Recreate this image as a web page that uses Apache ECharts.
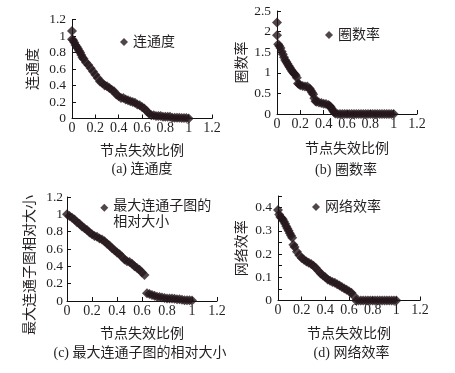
<!DOCTYPE html>
<html><head><meta charset="utf-8">
<script src="https://cdn.jsdelivr.net/npm/echarts@6/dist/echarts.min.js"></script>
<style>html,body{margin:0;padding:0;background:#fff}#c{width:455px;height:373px}</style>
</head><body><div id="c"></div>
<script>
// ---- data ----
var xTicks = ['0','0.2','0.4','0.6','0.8','1','1.2'];
var aX = [0,0,0.01,0.02,0.03,0.04,0.05,0.06,0.07,0.08,0.09,0.10,0.12,0.14,0.16,0.18,0.20,0.22,0.24,0.26,0.28,0.30,0.32,0.34,0.36,0.38,0.40,0.42,0.44,0.46,0.48,0.50,0.52,0.54,0.56,0.58,0.60,0.62,0.64,0.66,0.68,0.70,0.72,0.74,0.76,0.78,0.80,0.82,0.84,0.86,0.88,0.90,0.92,0.94,0.96,0.98,1.00];
var aY = [1.06,0.96,0.95,0.92,0.89,0.87,0.85,0.82,0.80,0.77,0.74,0.72,0.68,0.65,0.61,0.57,0.53,0.49,0.45,0.43,0.40,0.39,0.37,0.35,0.33,0.29,0.27,0.25,0.25,0.23,0.22,0.21,0.20,0.19,0.17,0.16,0.14,0.12,0.09,0.06,0.04,0.04,0.03,0.03,0.03,0.02,0.02,0.02,0.02,0.01,0.01,0.01,0.01,0.005,0.005,0.005,0];
var bX = [0,0,0.01,0.02,0.03,0.04,0.05,0.06,0.07,0.08,0.09,0.10,0.11,0.12,0.13,0.14,0.15,0.16,0.17,0.18,0.19,0.20,0.22,0.24,0.26,0.28,0.29,0.30,0.31,0.32,0.33,0.34,0.36,0.38,0.40,0.42,0.44,0.45,0.46,0.47,0.48,0.49,0.50,0.52,0.54,0.56,0.58,0.60,0.62,0.64,0.66,0.68,0.70,0.72,0.74,0.76,0.78,0.80,0.82,0.84,0.86,0.88,0.90,0.92,0.94,0.96,0.98,1.00];
var bY = [2.22,1.91,1.69,1.65,1.60,1.52,1.45,1.38,1.31,1.27,1.22,1.17,1.13,1.08,1.04,1.00,0.97,0.94,0.88,0.74,0.72,0.70,0.68,0.67,0.67,0.62,0.57,0.52,0.48,0.38,0.31,0.30,0.28,0.27,0.25,0.24,0.22,0.20,0.17,0.13,0.08,0.04,0.01,0,0,0,0,0,0,0,0,0,0,0,0,0,0,0,0,0,0,0,0,0,0,0,0,0];
var cX = [0,0.02,0.04,0.06,0.08,0.10,0.12,0.14,0.16,0.18,0.20,0.22,0.24,0.26,0.28,0.30,0.32,0.34,0.36,0.38,0.40,0.42,0.44,0.46,0.48,0.50,0.52,0.54,0.56,0.58,0.60,0.62,0.64,0.66,0.68,0.70,0.72,0.74,0.76,0.78,0.80,0.82,0.84,0.86,0.88,0.90,0.92,0.94,0.96,0.98,1.00];
var cY = [1.00,0.98,0.96,0.94,0.91,0.89,0.86,0.84,0.82,0.79,0.77,0.75,0.74,0.72,0.71,0.69,0.66,0.64,0.61,0.585,0.56,0.54,0.51,0.48,0.46,0.45,0.43,0.40,0.38,0.36,0.33,0.30,0.09,0.08,0.07,0.06,0.05,0.045,0.04,0.035,0.03,0.03,0.03,0.025,0.02,0.02,0.015,0.01,0.01,0.01,0.005];
var dX = [0,0.01,0.02,0.03,0.04,0.05,0.06,0.07,0.08,0.09,0.10,0.11,0.12,0.13,0.14,0.16,0.18,0.20,0.22,0.24,0.26,0.28,0.30,0.32,0.34,0.36,0.38,0.40,0.42,0.44,0.46,0.48,0.50,0.52,0.54,0.56,0.58,0.60,0.62,0.64,0.66,0.68,0.70,0.72,0.74,0.76,0.78,0.80,0.82,0.84,0.86,0.88,0.90,0.92,0.94,0.96,0.98,1.00];
var dY = [0.39,0.37,0.36,0.355,0.35,0.34,0.33,0.32,0.31,0.30,0.29,0.28,0.27,0.24,0.23,0.21,0.195,0.183,0.175,0.168,0.163,0.157,0.150,0.140,0.128,0.116,0.108,0.100,0.090,0.085,0.080,0.076,0.070,0.065,0.058,0.052,0.046,0.040,0.033,0.02,0,0,0,0,0,0,0,0,0,0,0,0,0,0,0,0,0,0];
var names = ['连通度','圈数率','最大连通子图的\n相对大小','网络效率'];
var yNames = ['连通度','圈数率','最大连通子图相对大小','网络效率'];
var xName = '节点失效比例';
var captions = ['(a) 连通度','(b) 圈数率','(c) 最大连通子图的相对大小','(d) 网络效率'];

// ---- chart ----
var FONT = 'Liberation Serif, Noto Sans CJK SC, serif';
var TXT = '#231f20';
var MK = '#24171a';
function zip(xs, ys){ return xs.map(function(x,i){return [x, ys[i]];}); }

var grids = [
  {left:72, top:19.5, width:140, height:99},
  {left:277, top:11, width:140, height:103},
  {left:67, top:197, width:150, height:104},
  {left:278, top:196, width:142, height:104.5}
];
var yCfg = [
  {max:1.2, interval:0.2, gap:32, fmt:null, pad:0},
  {max:2.5, interval:0.5, gap:28, fmt:null, pad:0},
  {max:1.2, interval:0.2, gap:30, fmt:null, pad:32},
  {max:0.45, interval:0.05, gap:29, fmt:function(v){return Math.round(v*20)%2===0 ? String(+v.toFixed(2)) : '';}, pad:0}
];
var xGaps = [26, 28, 26, 27];
var labelMargins = [6, 6, 4, 6];
var DIAMOND = 'path://M5 0 L10 5 L5 10 L0 5 Z';
var DIAMOND_TOP = 'path://M5 0 L10 5 L5 10 L0 5 Z M5 27 L5 27';

var option = {
  animation:false,
  backgroundColor:'#fff',
  textStyle:{fontFamily:FONT, color:TXT},
  grid: grids,
  xAxis: grids.map(function(g,i){ return {
    type:'value', gridIndex:i, min:0, max:1.2, interval:0.2,
    name:xName, nameLocation:'middle', nameGap:xGaps[i],
    nameTextStyle:{fontSize:14, color:TXT, fontFamily:FONT},
    axisLine:{show:true, onZero:false, lineStyle:{color:'#111', width:1}},
    axisTick:{show:true, inside:true, length:4, lineStyle:{color:'#111'}},
    axisLabel:{fontSize:14, color:TXT, fontFamily:FONT, margin:3, showMaxLabel:true, showMinLabel:true,
      hideOverlap:false, formatter:function(v){ return xTicks[Math.round(v/0.2)]; }},
    splitLine:{show:false}
  };}),
  yAxis: grids.map(function(g,i){ var c=yCfg[i]; return {
    type:'value', gridIndex:i, min:0, max:c.max, interval:c.interval,
    name:yNames[i], nameLocation:'middle', nameGap:c.gap, nameRotate:90,
    nameTextStyle:{fontSize:14, color:TXT, fontFamily:FONT, padding:[0, c.pad, 0, 0]},
    axisLine:{show:true, lineStyle:{color:'#111', width:1}},
    axisTick:{show:true, inside:true, length:4, lineStyle:{color:'#111'}},
    axisLabel:{fontSize:13.5, color:TXT, fontFamily:FONT, margin:labelMargins[i], showMaxLabel:true,
      formatter:c.fmt || undefined},
    splitLine:{show:false}
  };}),
  legend: [
    {data:[{name:names[0], icon:DIAMOND}], left:120, top:34, itemWidth:8, itemHeight:8},
    {data:[{name:names[1], icon:DIAMOND}], left:325, top:27, itemWidth:8, itemHeight:8},
    {data:[{name:names[2], icon:DIAMOND_TOP}], left:100.3, top:198.5, itemWidth:8, itemHeight:22},
    {data:[{name:names[3], icon:DIAMOND}], left:312, top:199, itemWidth:8, itemHeight:8}
  ].map(function(l){ return Object.assign({
    orient:'vertical', padding:0,
    textStyle:{fontSize:14, color:TXT, fontFamily:FONT, lineHeight:16},
    itemStyle:{color:MK, borderWidth:0}
  }, l);}),
  series: [zip(aX,aY), zip(bX,bY), zip(cX,cY), zip(dX,dY)].map(function(d,i){ return {
    type:'scatter', name:names[i], xAxisIndex:i, yAxisIndex:i, data:d,
    symbol:'diamond', symbolSize:10, itemStyle:{color:MK}
  };}),
  graphic: [
    {x:142, y:169}, {x:346, y:170}, {x:140, y:353}, {x:351.5, y:353}
  ].map(function(p,i){ return {
    type:'text', x:p.x, y:p.y,
    style:{text:captions[i], fontSize:14, fontFamily:FONT, fill:TXT, align:'center', verticalAlign:'middle'}
  };})
};
var chart = echarts.init(document.getElementById('c'), null, {renderer:'canvas'});
chart.setOption(option);
</script>
</body></html>
